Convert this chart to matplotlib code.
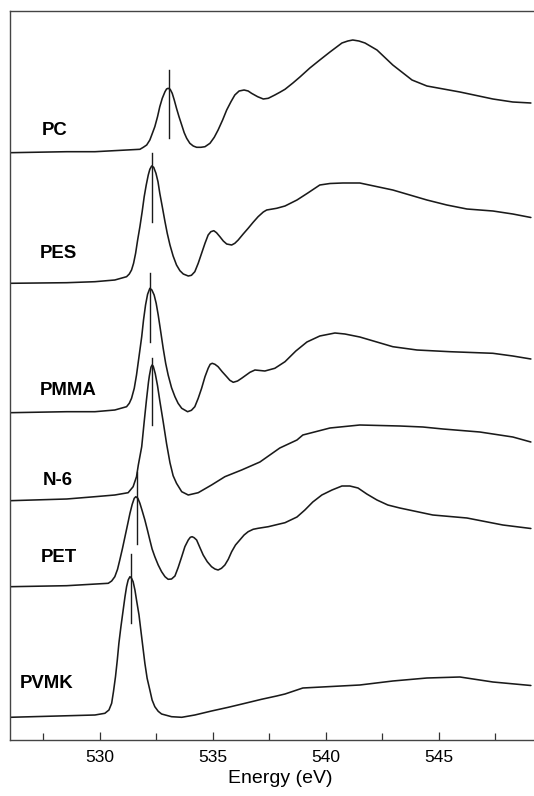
import matplotlib
matplotlib.use("Agg")
import matplotlib.pyplot as plt

plt.rcParams['font.family'] = ['Liberation Sans', 'DejaVu Sans']

# O K-edge NEXAFS spectra, each given as energy (eV) and intensity above its
# own pre-edge baseline (arbitrary units); spectra are stacked with offsets.
names = ["PC", "PES", "PMMA", "N-6", "PET", "PVMK"]
offsets = [587.3, 456.7, 327.3, 239.3, 153.3, 22.7]

pc_e = [526.02, 528.53, 529.78, 531.77, 531.92, 532.07, 532.21, 532.31, 532.43, 532.55,
        532.65, 532.76, 532.88, 532.95, 533.02, 533.11, 533.20, 533.29, 533.39, 533.50,
        533.62, 533.73, 533.84, 533.98, 534.13, 534.28, 534.47, 534.65, 534.87, 535.06,
        535.23, 535.43, 535.61, 535.80, 535.97, 536.16, 536.38, 536.56, 536.71, 536.98,
        537.23, 537.45, 537.74, 537.96, 538.19, 538.54, 538.85, 539.29, 539.73, 540.18,
        540.71, 540.97, 541.19, 541.46, 541.73, 542.26, 542.96, 543.81, 544.47, 545.93,
        547.39, 548.27, 549.07]
pc_i = [0, 1.0, 1.0, 3.4, 5.4, 7.7, 12.7, 18.7, 26, 36,
        46, 54.4, 61, 63.7, 64.4, 63.4, 59.4, 52.7, 44.4, 36,
        27.7, 20, 14.4, 9.4, 6.7, 5.4, 5.4, 6, 9.4, 15.4,
        22.7, 32.7, 42.7, 51, 57.7, 61.7, 62.7, 61.7, 59.4, 56,
        53.7, 54.4, 57.7, 60.4, 63.4, 69.7, 75.7, 84.7, 92.7, 100.7,
        109.7, 111.7, 112.7, 111.7, 109.7, 102.7, 87.7, 72.7, 66.7, 60.7,
        53.7, 50.7, 49.7]

pes_e = [526.02, 528.53, 529.78, 530.66, 531.18, 531.30, 531.40, 531.49, 531.58, 531.67,
         531.77, 531.87, 531.96, 532.05, 532.14, 532.21, 532.29, 532.38, 532.48, 532.57,
         532.65, 532.76, 532.88, 532.98, 533.10, 533.24, 533.39, 533.54, 533.69, 533.91,
         534.05, 534.20, 534.35, 534.50, 534.65, 534.79, 534.91, 535.04, 535.16, 535.31,
         535.46, 535.61, 535.83, 535.97, 536.12, 536.34, 536.56, 536.78, 537.00, 537.23,
         537.38, 537.82, 538.19, 538.72, 539.20, 539.73, 540.18, 540.75, 541.50, 542.96,
         544.47, 545.35, 546.24, 547.39, 548.27, 549.07]
pes_i = [0, 0.6, 1.6, 3.3, 6.6, 9.3, 13.3, 20, 30, 43.3,
         56.6, 71.6, 86.6, 98.3, 108.3, 114, 117.3, 116, 110, 101.6,
         90, 76.6, 61.6, 50, 38.3, 27.3, 18.3, 12.6, 9.3, 7.3,
         8, 11.6, 20, 30, 40, 48.3, 51.6, 52.6, 50.6, 46.6,
         42.3, 39.3, 38.3, 40, 43.3, 49.3, 55, 61, 66.6, 71.3,
         73.3, 75, 77.3, 83.3, 90.3, 98.3, 99.8, 100.3, 100.3, 93.3,
         83.3, 78.3, 74.3, 72.3, 69.3, 65.8]

pmma_e = [526.02, 528.53, 529.78, 530.66, 531.18, 531.30, 531.40, 531.52, 531.62, 531.73,
          531.85, 531.93, 532.02, 532.11, 532.21, 532.30, 532.40, 532.49, 532.58, 532.68,
          532.80, 532.91, 533.02, 533.17, 533.32, 533.46, 533.62, 533.88, 534.05, 534.20,
          534.35, 534.50, 534.65, 534.79, 534.88, 534.97, 535.09, 535.23, 535.41, 535.61,
          535.75, 535.90, 536.09, 536.27, 536.64, 536.86, 537.30, 537.74, 538.19, 538.67,
          539.16, 539.73, 540.40, 540.84, 541.50, 542.96, 544.03, 545.49, 547.39, 548.27,
          549.07]
pmma_i = [0, 1, 1, 2.7, 6, 9.4, 14.4, 24.4, 37.7, 56,
          76, 92.7, 107.7, 118.4, 124.4, 122.7, 117.7, 109.4, 97.7, 82.7,
          64.4, 49.4, 37.7, 25, 16, 9.4, 4.4, 1, 2.4, 6,
          14.4, 24.4, 36, 44.4, 48.4, 49.4, 48.4, 46, 41, 36,
          32.4, 30.4, 31.7, 34.4, 40.4, 42.7, 41.7, 44.4, 51, 61.7,
          70.7, 76.7, 79.7, 78.7, 75.7, 66, 62.7, 61, 59.4, 56.7,
          53.7]

n6_e = [526.02, 528.53, 529.78, 530.66, 531.25, 531.47, 531.62, 531.70, 531.85, 531.96,
        532.06, 532.15, 532.19, 532.26, 532.31, 532.36, 532.45, 532.55, 532.65, 532.80,
        532.95, 533.10, 533.24, 533.39, 533.62, 533.91, 534.35, 534.94, 535.53,
        536.27, 537.08, 537.52, 537.96, 538.72, 538.98, 540.18, 541.50, 543.27, 544.29,
        545.18, 546.81, 548.27, 549.07]
n6_i = [0, 1.7, 4, 5.7, 8, 14, 24, 35.7, 54, 79,
        100.7, 118.7, 125, 133.5, 135.7, 134.5, 127, 115, 100, 79,
        57, 38, 25, 17.4, 9, 5.7, 8, 15.7, 24,
        30.7, 38.7, 45.7, 52.7, 60.7, 65.7, 72.7, 75.7, 74.7, 73.7,
        71.7, 68.7, 63.7, 58.7]

pet_e = [526.02, 528.53, 530.37, 530.52, 530.66, 530.78, 530.88, 531.00, 531.11, 531.23,
         531.33, 531.43, 531.52, 531.59, 531.68, 531.77, 531.87, 531.99, 532.11, 532.21,
         532.31, 532.43, 532.58, 532.73, 532.88, 533.02, 533.17, 533.32, 533.46, 533.62,
         533.76, 533.91, 534.00, 534.08, 534.17, 534.28, 534.42, 534.57, 534.75, 534.94,
         535.09, 535.23, 535.38, 535.53, 535.68, 535.83, 536.00, 536.19, 536.38, 536.56,
         536.78, 537.00, 537.45, 537.89, 538.19, 538.72, 539.07, 539.42, 539.82, 540.27,
         540.71, 541.06, 541.42, 541.81, 542.26, 542.74, 543.27, 544.73, 546.24, 547.83,
         549.07]
pet_i = [0, 1, 3.4, 5.7, 10, 17.4, 26.7, 38.4, 50, 62.7,
         73.4, 82.4, 88.4, 90, 88.4, 83.4, 76, 66.7, 56, 46.7,
         37.7, 30, 21.7, 15, 10, 7.4, 7.7, 10.7, 19, 30,
         40, 46.7, 49.4, 50, 49, 46.7, 39.4, 31.7, 25, 20,
         17.7, 16.7, 18.4, 21.7, 27.4, 35, 41.7, 46.7, 51.7, 55,
         57.4, 58.4, 60, 62.4, 64, 69.7, 76.7, 84.7, 91.7, 96.7,
         100.7, 100.7, 98.7, 92.7, 86.7, 81.7, 78.7, 71.7, 68.7, 61.7,
         58.2]

pvmk_e = [526.02, 529.78, 530.22, 530.40, 530.52, 530.60, 530.69, 530.77, 530.84, 530.93,
          531.03, 531.11, 531.18, 531.25, 531.33, 531.40, 531.47, 531.55, 531.62, 531.73,
          531.81, 531.90, 531.99, 532.09, 532.21, 532.31, 532.43, 532.58, 532.73, 533.17,
          533.62, 534.20, 534.94, 535.68, 536.42, 537.15, 537.82, 538.19, 538.98, 541.50,
          542.96, 544.47, 545.93, 547.39, 549.07]
pvmk_i = [0, 2.3, 4, 7.3, 14, 25.6, 40.6, 57.3, 74, 90.6,
          107.3, 120.6, 130.6, 137.3, 140.6, 139, 135.6, 127.3, 117.3, 102.3,
          87.3, 70.6, 54, 39, 27.3, 17.3, 10.6, 6, 3.3, 0.6,
          0, 2.3, 6.3, 10, 14, 18, 21.3, 23.3, 29.3, 32.3,
          36.3, 39.3, 40.3, 35.3, 31.8]

energies = [pc_e, pes_e, pmma_e, n6_e, pet_e, pvmk_e]
intensities = [pc_i, pes_i, pmma_i, n6_i, pet_i, pvmk_i]

# pi* resonance markers: energy and vertical extent above the baseline
marker_e = [533.04, 532.30, 532.23, 532.31, 531.65, 531.36]
marker_lo = [14.4, 61.6, 71.0, 75.7, 42.7, 94.0]
marker_hi = [82.7, 130.6, 139.7, 142.4, 114.7, 163.3]

xticks_major = [530, 535, 540, 545]
xticks_minor = [527.5, 532.5, 537.5, 542.5, 547.5]

# label anchors (left edge energy, height in axis units)
label_x = [527.43, 527.35, 527.35, 527.48, 527.39, 526.46]
label_y = [610, 486, 350, 260, 183, 57]

W, H = 534, 796
fig = plt.figure(figsize=(W / 100, H / 100), dpi=100)
x_lo, x_hi = 526.0, 550.0
px_per_ev = 22.6
ax = fig.add_axes([9.5 / W, 56 / H, (x_hi - x_lo) * px_per_ev / W, 729 / H])

line_color = "#1a1a1a"
for e, i, off in zip(energies, intensities, offsets):
    ax.plot(e, [v + off for v in i], color=line_color, lw=1.15,
            solid_joinstyle="round", solid_capstyle="round")

for me, lo, hi, off in zip(marker_e, marker_lo, marker_hi, offsets):
    ax.plot([me, me], [off + lo, off + hi], color=line_color, lw=1.0)

for name, lx, ly in zip(names, label_x, label_y):
    ax.text(lx, ly, name, fontsize=13.4, fontweight="bold", ha="left", va="center",
            color="black")

ax.set_xlim(x_lo, x_hi)
ax.set_ylim(0, 729)
ax.set_xticks(xticks_major)
ax.set_xticks(xticks_minor, minor=True)
ax.set_yticks([])
ax.tick_params(axis="x", which="major", direction="in", length=6, width=0.9,
               labelsize=12.5, pad=7, colors="#333333", labelcolor="black")
ax.tick_params(axis="x", which="minor", direction="in", length=4.7, width=0.9,
               colors="#333333")
ax.set_xlabel("Energy (eV)", fontsize=14, labelpad=4)
for s in ax.spines.values():
    s.set_color("#444444")
    s.set_linewidth(1.0)

fig.savefig("out.png", dpi=100)
